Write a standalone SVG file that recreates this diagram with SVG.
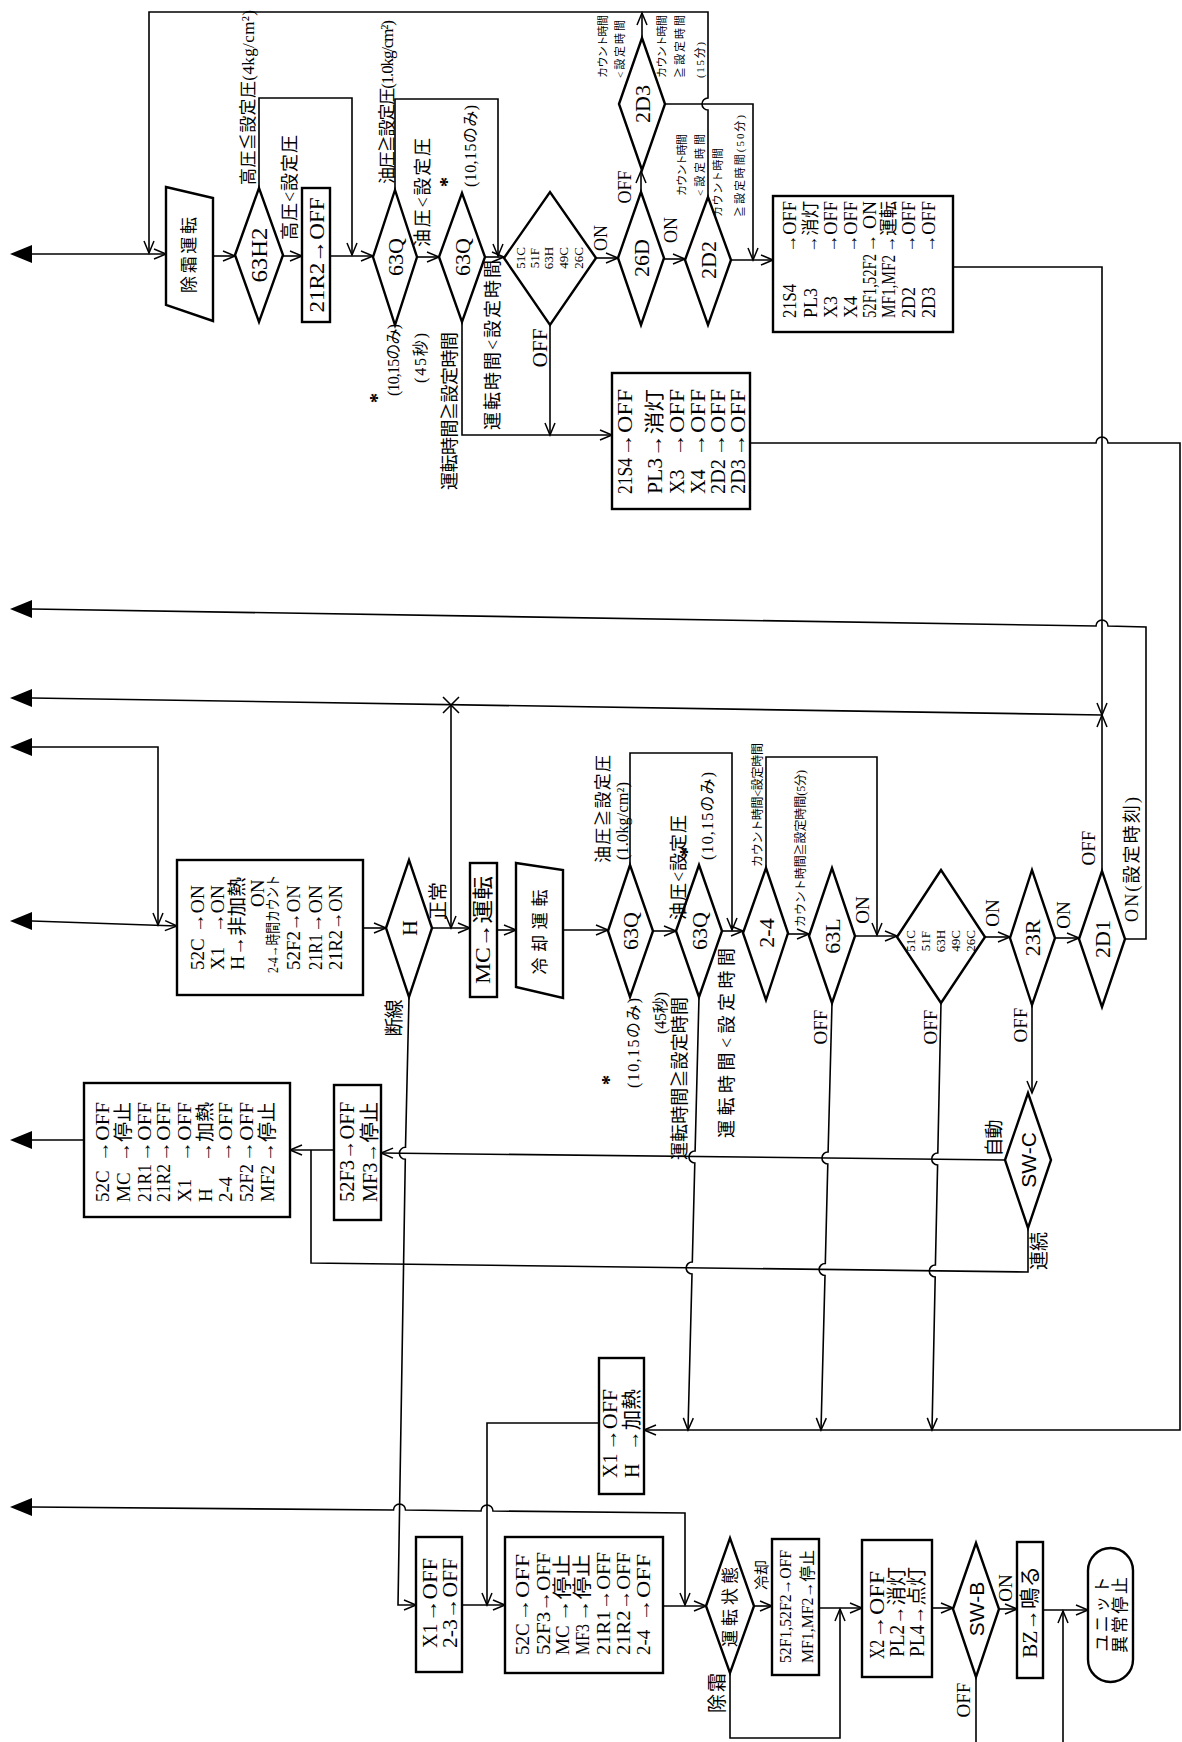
<svg xmlns="http://www.w3.org/2000/svg" width="1182" height="1742" viewBox="0 0 1182 1742">
<defs>
<style>
.ln{fill:none;stroke:#000;stroke-width:1.6}
.sh{fill:#fff;stroke:#000;stroke-width:2.4}
.fa{fill:#000;stroke:none}
.t{font-family:"Liberation Serif","Noto Sans CJK JP",serif;dominant-baseline:central;fill:#000}
.s{font-family:"Liberation Sans","Noto Sans CJK JP",sans-serif}
.m{text-anchor:middle}
.f11{font-size:11px}.f12{font-size:12px}.f13{font-size:13px}.f14{font-size:14px}.f15{font-size:15px}.f16{font-size:16px}.f17{font-size:17px}.f18{font-size:18px}.f19{font-size:19px}.f20{font-size:20px}.f21{font-size:21px}.f22{font-size:22px}.f24{font-size:24px}
.b{font-weight:bold}
</style>
<marker id="ar" markerUnits="userSpaceOnUse" markerWidth="16" markerHeight="14" viewBox="-14 -7 16 14" refX="0" refY="0" orient="auto"><path d="M-12,-5 L0,0 L-12,5" fill="none" stroke="#000" stroke-width="1.5"/></marker>
</defs>
<rect width="1182" height="1742" fill="#fff"/>

<g id="connectors" class="ln">
<polygon class="fa" points="10,254 32,245 32,263"/>
<path d="M32 254 H166" marker-end="url(#ar)"/>
<path d="M708 197 V110 A6 6 0 0 1 708 98 V12 H149 V253" marker-end="url(#ar)"/>
<path d="M213 256 H235" marker-end="url(#ar)"/>
<path d="M283 256 H302" marker-end="url(#ar)"/>
<path d="M259 188 V98 H352 V255" marker-end="url(#ar)"/>
<path d="M330 256 H373" marker-end="url(#ar)"/>
<path d="M395 190 V99 H498 V256" marker-end="url(#ar)"/>
<path d="M417 257 H439" marker-end="url(#ar)"/>
<path d="M485 257 H504" marker-end="url(#ar)"/>
<path d="M596 258 H618" marker-end="url(#ar)"/>
<path d="M550 325 V435" marker-end="url(#ar)"/>
<path d="M462 322 V435 H612" marker-end="url(#ar)"/>
<path d="M641 192 V171" marker-end="url(#ar)"/>
<path d="M642 38 V13" marker-end="url(#ar)"/>
<path d="M665 104 H753 V260" marker-end="url(#ar)"/>
<path d="M664 259 H685" marker-end="url(#ar)"/>
<path d="M731 260 H773" marker-end="url(#ar)"/>
<path d="M953 267 H1102 V715" marker-end="url(#ar)"/>
<path d="M1102 871 V715" marker-end="url(#ar)"/>
<path d="M750 443 H1096 A6 6 0 0 1 1108 443 H1180 V1430 H644" marker-end="url(#ar)"/>
<polygon class="fa" points="10,609 32,600 32,618"/>
<path d="M32 609 L1096 626 A6 6 0 0 1 1108 626 L1146 627 V939 H1125"/>
<polygon class="fa" points="10,698 32,689 32,707"/>
<path d="M32 698 L1102 715"/>
<path d="M443 697 L459 713 M459 697 L443 713"/>
<path d="M451 705 V928" marker-end="url(#ar)"/>
<polygon class="fa" points="10,747 32,738 32,756"/>
<path d="M32 747 H158 V925" marker-end="url(#ar)"/>
<polygon class="fa" points="10,921 32,912 32,930"/>
<path d="M32 921 L177 926" marker-end="url(#ar)"/>
<path d="M363 928 H386" marker-end="url(#ar)"/>
<path d="M432 928 H470" marker-end="url(#ar)"/>
<path d="M497 930 H516" marker-end="url(#ar)"/>
<path d="M563 930 H608" marker-end="url(#ar)"/>
<path d="M653 931 H676" marker-end="url(#ar)"/>
<path d="M630 865 V753 H732 V930" marker-end="url(#ar)"/>
<path d="M722 931 H743" marker-end="url(#ar)"/>
<path d="M766 868 V757 H877 V935" marker-end="url(#ar)"/>
<path d="M788 934 H809" marker-end="url(#ar)"/>
<path d="M855 936 H897" marker-end="url(#ar)"/>
<path d="M985 937 H1010" marker-end="url(#ar)"/>
<path d="M1055 938 H1079" marker-end="url(#ar)"/>
<path d="M1032 1005 V1093" marker-end="url(#ar)"/>
<path d="M409 997 L405.5 1147.3 A6 6 0 0 0 405.3 1159.3 L398 1605 H416" marker-end="url(#ar)"/>
<path d="M699 997 L695.1 1151 A6 6 0 0 0 694.8 1163 L692.3 1262 A6 6 0 0 0 692 1274 L688 1430" marker-end="url(#ar)"/>
<path d="M832 1003 L828.1 1152 A6 6 0 0 0 827.8 1164 L825.3 1263.5 A6 6 0 0 0 825 1275.5 L821 1430" marker-end="url(#ar)"/>
<path d="M941 1003 L937.8 1153 A6 6 0 0 0 937.6 1165 L935.4 1265 A6 6 0 0 0 935.2 1277 L932 1430" marker-end="url(#ar)"/>
<path d="M1005 1160 L381 1153" marker-end="url(#ar)"/>
<path d="M334 1150 H290" marker-end="url(#ar)"/>
<path d="M1028 1228 V1272 L311 1263 V1150"/>
<path d="M599 1423 H487 V1605" marker-end="url(#ar)"/>
<polygon class="fa" points="10,1140 32,1131 32,1149"/>
<path d="M32 1140 H84"/>
<polygon class="fa" points="10,1507 32,1498 32,1516"/>
<path d="M32 1507 L393.5 1510 A6 6 0 0 1 405.5 1510 L481 1511 A6 6 0 0 1 493 1511 L685 1513 V1605" marker-end="url(#ar)"/>
<path d="M462 1605 H505" marker-end="url(#ar)"/>
<path d="M663 1606 H706" marker-end="url(#ar)"/>
<path d="M754 1606 H772" marker-end="url(#ar)"/>
<path d="M730 1673 V1738 H840 V1609" marker-end="url(#ar)"/>
<path d="M819 1608 H862" marker-end="url(#ar)"/>
<path d="M932 1608 H953" marker-end="url(#ar)"/>
<path d="M999 1609 H1017" marker-end="url(#ar)"/>
<path d="M1043 1610 H1088" marker-end="url(#ar)"/>
<path d="M1063 1742 V1611" marker-end="url(#ar)"/>
<path d="M976 1677 V1742"/>
</g>

<!-- TOP ROW NODES -->
<g id="defrost"><polygon class="sh" points="166,187 213,198 213,321 166,305"/>
<text class="t m f17" x="189" y="255" transform="rotate(-90 189 255)" textLength="76">除霜運転</text></g>
<g id="d63H2"><polygon class="sh" points="235,255 259,188 283,255 259,322"/>
<text class="t m f24" x="259" y="255" transform="rotate(-90 259 255)" textLength="55" lengthAdjust="spacingAndGlyphs">63H2</text></g>
<g id="b21R2"><rect class="sh" x="302" y="188" width="28" height="134"/>
<text class="t m f22" x="316" y="255" transform="rotate(-90 316 255)" textLength="115" lengthAdjust="spacingAndGlyphs">21R2→OFF</text></g>
<g id="d63Qa"><polygon class="sh" points="373,257 395,190 417,257 395,325"/>
<text class="t m f22" x="395" y="257" transform="rotate(-90 395 257)">63Q</text></g>
<g id="d63Qb"><polygon class="sh" points="439,257 462,193 485,257 462,322"/>
<text class="t m f22" x="462" y="257" transform="rotate(-90 462 257)">63Q</text></g>
<g id="d51Ca"><polygon class="sh" points="504,258 550,192 596,258 550,325"/>
<text class="t m f13" x="520" y="258" transform="rotate(-90 520 258)">51C</text>
<text class="t m f13" x="534" y="258" transform="rotate(-90 534 258)">51F</text>
<text class="t m f13" x="548" y="258" transform="rotate(-90 548 258)">63H</text>
<text class="t m f13" x="563" y="258" transform="rotate(-90 563 258)">49C</text>
<text class="t m f13" x="578" y="258" transform="rotate(-90 578 258)">26C</text></g>
<g id="d26D"><polygon class="sh" points="618,258 641,192 664,258 641,325"/>
<text class="t m f22" x="641" y="258" transform="rotate(-90 641 258)">26D</text></g>
<g id="d2D3"><polygon class="sh" points="619,104 642,38 665,104 642,170"/>
<text class="t m f22" x="642" y="104" transform="rotate(-90 642 104)">2D3</text></g>
<g id="d2D2"><polygon class="sh" points="685,260 708,197 731,260 708,325"/>
<text class="t m f22" x="708" y="260" transform="rotate(-90 708 260)">2D2</text></g>
<g id="b21S4R"><rect class="sh" x="773" y="196" width="180" height="136"/>
<text class="t f18" x="790" y="318" transform="rotate(-90 790 318)" textLength="34" lengthAdjust="spacingAndGlyphs">21S4</text><text class="t f18" x="790" y="253" transform="rotate(-90 790 253)" textLength="52" lengthAdjust="spacingAndGlyphs">→OFF</text>
<text class="t f18" x="811" y="318" transform="rotate(-90 811 318)">PL3</text><text class="t f18" x="811" y="253" transform="rotate(-90 811 253)" textLength="52" lengthAdjust="spacingAndGlyphs">→消灯</text>
<text class="t f18" x="831" y="318" transform="rotate(-90 831 318)">X3</text><text class="t f18" x="831" y="253" transform="rotate(-90 831 253)" textLength="52" lengthAdjust="spacingAndGlyphs">→OFF</text>
<text class="t f18" x="851" y="318" transform="rotate(-90 851 318)">X4</text><text class="t f18" x="851" y="253" transform="rotate(-90 851 253)" textLength="52" lengthAdjust="spacingAndGlyphs">→OFF</text>
<text class="t f18" x="870" y="318" transform="rotate(-90 870 318)" textLength="64" lengthAdjust="spacingAndGlyphs">52F1,52F2</text><text class="t f18" x="870" y="253" transform="rotate(-90 870 253)" textLength="52" lengthAdjust="spacingAndGlyphs">→ ON</text>
<text class="t f18" x="889" y="318" transform="rotate(-90 889 318)" textLength="63" lengthAdjust="spacingAndGlyphs">MF1,MF2</text><text class="t f18" x="889" y="253" transform="rotate(-90 889 253)" textLength="52" lengthAdjust="spacingAndGlyphs">→運転</text>
<text class="t f18" x="909" y="318" transform="rotate(-90 909 318)">2D2</text><text class="t f18" x="909" y="253" transform="rotate(-90 909 253)" textLength="52" lengthAdjust="spacingAndGlyphs">→OFF</text>
<text class="t f18" x="929" y="318" transform="rotate(-90 929 318)">2D3</text><text class="t f18" x="929" y="253" transform="rotate(-90 929 253)" textLength="52" lengthAdjust="spacingAndGlyphs">→OFF</text></g>
<g id="b21S4L"><rect class="sh" x="612" y="373" width="138" height="136"/>
<text class="t f20" x="625" y="494" transform="rotate(-90 625 494)" textLength="36" lengthAdjust="spacingAndGlyphs">21S4</text><text class="t f20" x="625" y="457" transform="rotate(-90 625 457)" textLength="68" lengthAdjust="spacingAndGlyphs">→OFF</text>
<text class="t f20" x="655" y="494" transform="rotate(-90 655 494)" textLength="36" lengthAdjust="spacingAndGlyphs">PL3</text><text class="t f20" x="655" y="457" transform="rotate(-90 655 457)" textLength="68" lengthAdjust="spacingAndGlyphs">→消灯</text>
<text class="t f20" x="677" y="494" transform="rotate(-90 677 494)">X3</text><text class="t f20" x="677" y="457" transform="rotate(-90 677 457)" textLength="68" lengthAdjust="spacingAndGlyphs">→OFF</text>
<text class="t f20" x="698" y="494" transform="rotate(-90 698 494)">X4</text><text class="t f20" x="698" y="457" transform="rotate(-90 698 457)" textLength="68" lengthAdjust="spacingAndGlyphs">→OFF</text>
<text class="t f20" x="718" y="494" transform="rotate(-90 718 494)" textLength="35" lengthAdjust="spacingAndGlyphs">2D2</text><text class="t f20" x="718" y="457" transform="rotate(-90 718 457)" textLength="68" lengthAdjust="spacingAndGlyphs">→OFF</text>
<text class="t f20" x="738" y="494" transform="rotate(-90 738 494)" textLength="35" lengthAdjust="spacingAndGlyphs">2D3</text><text class="t f20" x="738" y="457" transform="rotate(-90 738 457)" textLength="68" lengthAdjust="spacingAndGlyphs">→OFF</text></g>

<!-- MIDDLE ROW NODES -->
<g id="b52Con"><rect class="sh" x="177" y="860" width="186" height="135"/>
<text class="t f19" x="197" y="970" transform="rotate(-90 197 970)">52C</text><text class="t f19" x="197" y="933" transform="rotate(-90 197 933)" textLength="48" lengthAdjust="spacingAndGlyphs">→ON</text>
<text class="t f19" x="217" y="970" transform="rotate(-90 217 970)">X1</text><text class="t f19" x="217" y="933" transform="rotate(-90 217 933)" textLength="48" lengthAdjust="spacingAndGlyphs">→ON</text>
<text class="t f19" x="237" y="970" transform="rotate(-90 237 970)" textLength="93" lengthAdjust="spacingAndGlyphs">H→非加熱</text>
<text class="t f19" x="257" y="907" transform="rotate(-90 257 907)">ON</text>
<text class="t f15" x="273" y="973" transform="rotate(-90 273 973)" textLength="98" lengthAdjust="spacingAndGlyphs">2-4→時間カウント</text>
<text class="t f19" x="293" y="970" transform="rotate(-90 293 970)" textLength="85" lengthAdjust="spacingAndGlyphs">52F2→ON</text>
<text class="t f19" x="315" y="970" transform="rotate(-90 315 970)" textLength="36" lengthAdjust="spacingAndGlyphs">21R1</text><text class="t f19" x="315" y="933" transform="rotate(-90 315 933)" textLength="48" lengthAdjust="spacingAndGlyphs">→ON</text>
<text class="t f19" x="335" y="970" transform="rotate(-90 335 970)" textLength="85" lengthAdjust="spacingAndGlyphs">21R2→ON</text></g>
<g id="dH"><polygon class="sh" points="386,928 409,860 432,928 409,997"/>
<text class="t m f22" x="409" y="928" transform="rotate(-90 409 928)">H</text></g>
<g id="bMC"><rect class="sh" x="470" y="863" width="27" height="134"/>
<text class="t m f21" x="483" y="930" transform="rotate(-90 483 930)" textLength="108" lengthAdjust="spacingAndGlyphs">MC→運転</text></g>
<g id="cool"><polygon class="sh" points="516,863 563,870 563,998 516,987"/>
<text class="t m f17" x="540" y="932" transform="rotate(-90 540 932)" textLength="85">冷却運転</text></g>
<g id="d63Qc"><polygon class="sh" points="608,931 630,865 653,931 630,997"/>
<text class="t m f22" x="630" y="931" transform="rotate(-90 630 931)">63Q</text></g>
<g id="d63Qd"><polygon class="sh" points="676,931 699,865 722,931 699,997"/>
<text class="t m f22" x="699" y="931" transform="rotate(-90 699 931)">63Q</text></g>
<g id="d24"><polygon class="sh" points="743,933 766,868 788,933 766,1000"/>
<text class="t m f22" x="766" y="933" transform="rotate(-90 766 933)">2-4</text></g>
<g id="d63L"><polygon class="sh" points="809,936 832,868 855,936 832,1003"/>
<text class="t m f22" x="832" y="936" transform="rotate(-90 832 936)">63L</text></g>
<g id="d51Cb"><polygon class="sh" points="897,937 941,870 985,937 941,1003"/>
<text class="t m f13" x="910" y="941" transform="rotate(-90 910 941)">51C</text>
<text class="t m f13" x="925" y="941" transform="rotate(-90 925 941)">51F</text>
<text class="t m f13" x="940" y="941" transform="rotate(-90 940 941)">63H</text>
<text class="t m f13" x="955" y="941" transform="rotate(-90 955 941)">49C</text>
<text class="t m f13" x="970" y="941" transform="rotate(-90 970 941)">26C</text></g>
<g id="d23R"><polygon class="sh" points="1010,938 1032,870 1055,938 1032,1005"/>
<text class="t m f22" x="1032" y="938" transform="rotate(-90 1032 938)">23R</text></g>
<g id="d2D1"><polygon class="sh" points="1079,939 1102,871 1125,939 1102,1007"/>
<text class="t m f22" x="1102" y="939" transform="rotate(-90 1102 939)">2D1</text></g>
<g id="dSWC"><polygon class="sh" points="1005,1160 1028,1093 1051,1160 1028,1228"/>
<text class="t s m f21" x="1028" y="1160" transform="rotate(-90 1028 1160)">SW-C</text></g>
<g id="b52Coff"><rect class="sh" x="84" y="1083" width="206" height="134"/>
<text class="t f19" x="102" y="1202" transform="rotate(-90 102 1202)">52C</text><text class="t f19" x="102" y="1162" transform="rotate(-90 102 1162)" textLength="60" lengthAdjust="spacingAndGlyphs">→OFF</text>
<text class="t f19" x="123" y="1202" transform="rotate(-90 123 1202)">MC</text><text class="t f19" x="123" y="1162" transform="rotate(-90 123 1162)" textLength="60" lengthAdjust="spacingAndGlyphs">→停止</text>
<text class="t f19" x="144" y="1202" transform="rotate(-90 144 1202)" textLength="38" lengthAdjust="spacingAndGlyphs">21R1</text><text class="t f19" x="144" y="1162" transform="rotate(-90 144 1162)" textLength="60" lengthAdjust="spacingAndGlyphs">→OFF</text>
<text class="t f19" x="163" y="1202" transform="rotate(-90 163 1202)" textLength="38" lengthAdjust="spacingAndGlyphs">21R2</text><text class="t f19" x="163" y="1162" transform="rotate(-90 163 1162)" textLength="60" lengthAdjust="spacingAndGlyphs">→OFF</text>
<text class="t f19" x="184" y="1202" transform="rotate(-90 184 1202)">X1</text><text class="t f19" x="184" y="1162" transform="rotate(-90 184 1162)" textLength="60" lengthAdjust="spacingAndGlyphs">→OFF</text>
<text class="t f19" x="205" y="1202" transform="rotate(-90 205 1202)">H</text><text class="t f19" x="205" y="1162" transform="rotate(-90 205 1162)" textLength="60" lengthAdjust="spacingAndGlyphs">→加熱</text>
<text class="t f19" x="225" y="1202" transform="rotate(-90 225 1202)">2-4</text><text class="t f19" x="225" y="1162" transform="rotate(-90 225 1162)" textLength="60" lengthAdjust="spacingAndGlyphs">→OFF</text>
<text class="t f19" x="246" y="1202" transform="rotate(-90 246 1202)" textLength="38" lengthAdjust="spacingAndGlyphs">52F2</text><text class="t f19" x="246" y="1162" transform="rotate(-90 246 1162)" textLength="60" lengthAdjust="spacingAndGlyphs">→OFF</text>
<text class="t f19" x="267" y="1202" transform="rotate(-90 267 1202)" textLength="37" lengthAdjust="spacingAndGlyphs">MF2</text><text class="t f19" x="267" y="1162" transform="rotate(-90 267 1162)" textLength="60" lengthAdjust="spacingAndGlyphs">→停止</text></g>
<g id="b52F3"><rect class="sh" x="334" y="1085" width="47" height="135"/>
<text class="t f20" x="347" y="1202" transform="rotate(-90 347 1202)" textLength="100" lengthAdjust="spacingAndGlyphs">52F3→OFF</text>
<text class="t f20" x="370" y="1202" transform="rotate(-90 370 1202)" textLength="100" lengthAdjust="spacingAndGlyphs">MF3→停止</text></g>
<g id="bX1H"><rect class="sh" x="599" y="1358" width="45" height="136"/>
<text class="t f20" x="610" y="1478" transform="rotate(-90 610 1478)">X1</text><text class="t f20" x="610" y="1451" transform="rotate(-90 610 1451)" textLength="62" lengthAdjust="spacingAndGlyphs">→OFF</text>
<text class="t f20" x="632" y="1478" transform="rotate(-90 632 1478)">H</text><text class="t f20" x="632" y="1451" transform="rotate(-90 632 1451)" textLength="62" lengthAdjust="spacingAndGlyphs">→加熱</text></g>

<!-- BOTTOM ROW NODES -->
<g id="bX1"><rect class="sh" x="416" y="1537" width="46" height="135"/>
<text class="t f20" x="430" y="1648" transform="rotate(-90 430 1648)">X1</text><text class="t f20" x="430" y="1622" transform="rotate(-90 430 1622)" textLength="64" lengthAdjust="spacingAndGlyphs">→OFF</text>
<text class="t f20" x="450" y="1648" transform="rotate(-90 450 1648)" textLength="90" lengthAdjust="spacingAndGlyphs">2-3→OFF</text></g>
<g id="b52Coff2"><rect class="sh" x="505" y="1537" width="158" height="136"/>
<text class="t f19" x="522" y="1655" transform="rotate(-90 522 1655)">52C</text><text class="t f19" x="522" y="1622" transform="rotate(-90 522 1622)" textLength="68" lengthAdjust="spacingAndGlyphs">→OFF</text>
<text class="t f19" x="543" y="1655" transform="rotate(-90 543 1655)" textLength="103" lengthAdjust="spacingAndGlyphs">52F3→OFF</text>
<text class="t f19" x="562" y="1655" transform="rotate(-90 562 1655)">MC</text><text class="t f19" x="562" y="1622" transform="rotate(-90 562 1622)" textLength="68" lengthAdjust="spacingAndGlyphs">→停止</text>
<text class="t f19" x="582" y="1655" transform="rotate(-90 582 1655)" textLength="31" lengthAdjust="spacingAndGlyphs">MF3</text><text class="t f19" x="582" y="1622" transform="rotate(-90 582 1622)" textLength="68" lengthAdjust="spacingAndGlyphs">→停止</text>
<text class="t f19" x="603" y="1655" transform="rotate(-90 603 1655)" textLength="103" lengthAdjust="spacingAndGlyphs">21R1→OFF</text>
<text class="t f19" x="623" y="1655" transform="rotate(-90 623 1655)" textLength="103" lengthAdjust="spacingAndGlyphs">21R2→OFF</text>
<text class="t f19" x="643" y="1655" transform="rotate(-90 643 1655)">2-4</text><text class="t f19" x="643" y="1622" transform="rotate(-90 643 1622)" textLength="68" lengthAdjust="spacingAndGlyphs">→OFF</text></g>
<g id="dState"><polygon class="sh" points="706,1606 730,1538 754,1606 730,1673"/>
<text class="t m f17" x="730" y="1607" transform="rotate(-90 730 1607)" textLength="80">運転状態</text></g>
<g id="b52F1"><rect class="sh" x="772" y="1539" width="47" height="136"/>
<text class="t f16" x="785" y="1663" transform="rotate(-90 785 1663)" textLength="113" lengthAdjust="spacingAndGlyphs">52F1,52F2→OFF</text>
<text class="t f16" x="807" y="1663" transform="rotate(-90 807 1663)" textLength="113" lengthAdjust="spacingAndGlyphs">MF1,MF2→停止</text></g>
<g id="bX2"><rect class="sh" x="862" y="1540" width="70" height="137"/>
<text class="t f20" x="877" y="1659" transform="rotate(-90 877 1659)" textLength="19" lengthAdjust="spacingAndGlyphs">X2</text><text class="t f20" x="877" y="1639" transform="rotate(-90 877 1639)" textLength="68" lengthAdjust="spacingAndGlyphs">→OFF</text>
<text class="t f20" x="897" y="1657" transform="rotate(-90 897 1657)" textLength="90" lengthAdjust="spacingAndGlyphs">PL2→消灯</text>
<text class="t f20" x="917" y="1657" transform="rotate(-90 917 1657)" textLength="90" lengthAdjust="spacingAndGlyphs">PL4→点灯</text></g>
<g id="dSWB"><polygon class="sh" points="953,1609 976,1543 999,1609 976,1677"/>
<text class="t s m f21" x="976" y="1609" transform="rotate(-90 976 1609)">SW-B</text></g>
<g id="bBZ"><rect class="sh" x="1017" y="1542" width="26" height="136"/>
<text class="t m f21" x="1030" y="1612" transform="rotate(-90 1030 1612)" textLength="92" lengthAdjust="spacingAndGlyphs">BZ→鳴る</text></g>
<g id="term"><rect class="sh" x="1088" y="1548" width="45" height="134" rx="22.5" ry="22.5"/>
<text class="t m f17" x="1102" y="1614" transform="rotate(-90 1102 1614)" textLength="75">ユニット</text>
<text class="t m f17" x="1120" y="1615" transform="rotate(-90 1120 1615)" textLength="76">異常停止</text></g>

<g id="labels">
<text class="t f17" x="248" y="185" transform="rotate(-90 248 185)" textLength="175">高圧≦設定圧(4kg/cm²)</text>
<text class="t f18" x="290" y="240" transform="rotate(-90 290 240)" textLength="105">高圧&lt;設定圧</text>
<text class="t f17" x="387" y="184" transform="rotate(-90 387 184)" textLength="164">油圧≧設定圧(1.0kg/cm²)</text>
<text class="t f18" x="423" y="247" transform="rotate(-90 423 247)" textLength="109">油圧&lt;設定圧</text>
<text class="t m f20 b" x="447" y="182" transform="rotate(-90 447 182)">*</text>
<text class="t f16" x="470" y="187" transform="rotate(-90 470 187)" textLength="82">(10,15のみ)</text>
<text class="t f16" x="393" y="396" transform="rotate(-90 393 396)" textLength="72">(10,15のみ)</text>
<text class="t m f20 b" x="377" y="398" transform="rotate(-90 377 398)">*</text>
<text class="t f16" x="420" y="383" transform="rotate(-90 420 383)" textLength="50">(45秒)</text>
<text class="t f18" x="450" y="490" transform="rotate(-90 450 490)" textLength="158">運転時間≧設定時間</text>
<text class="t f18" x="493" y="430" transform="rotate(-90 493 430)" textLength="170">運転時間&lt;設定時間</text>
<text class="t m f20" x="540" y="348" transform="rotate(-90 540 348)" textLength="39" lengthAdjust="spacingAndGlyphs">OFF</text>
<text class="t m f18" x="601" y="238" transform="rotate(-90 601 238)">ON</text>
<text class="t m f18" x="625" y="187" transform="rotate(-90 625 187)">OFF</text>
<text class="t m f18" x="671" y="230" transform="rotate(-90 671 230)">ON</text>
<text class="t f11" x="603" y="78" transform="rotate(-90 603 78)" textLength="63">カウント時間</text>
<text class="t f11" x="620" y="78" transform="rotate(-90 620 78)" textLength="58">&lt;設定時間</text>
<text class="t f11" x="662" y="78" transform="rotate(-90 662 78)" textLength="63">カウント時間</text>
<text class="t f11" x="680" y="78" transform="rotate(-90 680 78)" textLength="63">≧設定時間</text>
<text class="t f11" x="700" y="78" transform="rotate(-90 700 78)" textLength="36">(15分)</text>
<text class="t f11" x="682" y="196" transform="rotate(-90 682 196)" textLength="62">カウント時間</text>
<text class="t f11" x="700" y="196" transform="rotate(-90 700 196)" textLength="62">&lt;設定時間</text>
<text class="t f11" x="718" y="217" transform="rotate(-90 718 217)" textLength="69">カウント時間</text>
<text class="t f11" x="740" y="217" transform="rotate(-90 740 217)" textLength="102">≧設定時間(50分)</text>

<text class="t m f19" x="438" y="901" transform="rotate(-90 438 901)" textLength="38">正常</text>
<text class="t m f19" x="394" y="1018" transform="rotate(-90 394 1018)" textLength="37">断線</text>
<text class="t f17" x="603" y="863" transform="rotate(-90 603 863)" textLength="108">油圧≧設定圧</text>
<text class="t f16" x="622" y="860" transform="rotate(-90 622 860)" textLength="78">(1.0kg/cm²)</text>
<text class="t f18" x="679" y="920" transform="rotate(-90 679 920)" textLength="105">油圧&lt;設定圧</text>
<text class="t m f20 b" x="687" y="852" transform="rotate(-90 687 852)">*</text>
<text class="t f16" x="707" y="860" transform="rotate(-90 707 860)" textLength="88">(10,15のみ)</text>
<text class="t m f20 b" x="609" y="1080" transform="rotate(-90 609 1080)">*</text>
<text class="t f16" x="633" y="1088" transform="rotate(-90 633 1088)" textLength="90">(10,15のみ)</text>
<text class="t f16" x="660" y="1034" transform="rotate(-90 660 1034)" textLength="42">(45秒)</text>
<text class="t f18" x="680" y="1160" transform="rotate(-90 680 1160)" textLength="163">運転時間≧設定時間</text>
<text class="t f18" x="727" y="1138" transform="rotate(-90 727 1138)" textLength="190">運転時間&lt;設定時間</text>
<text class="t f12" x="758" y="867" transform="rotate(-90 758 867)" textLength="124">カウント時間&lt;設定時間</text>
<text class="t f12" x="801" y="927" transform="rotate(-90 801 927)" textLength="157">カウント時間≧設定時間(5分)</text>
<text class="t m f19" x="862" y="910" transform="rotate(-90 862 910)">ON</text>
<text class="t m f19" x="820" y="1027" transform="rotate(-90 820 1027)">OFF</text>
<text class="t m f19" x="992" y="913" transform="rotate(-90 992 913)">ON</text>
<text class="t m f19" x="930" y="1027" transform="rotate(-90 930 1027)">OFF</text>
<text class="t m f19" x="1063" y="915" transform="rotate(-90 1063 915)">ON</text>
<text class="t m f19" x="1020" y="1025" transform="rotate(-90 1020 1025)">OFF</text>
<text class="t m f19" x="1088" y="848" transform="rotate(-90 1088 848)">OFF</text>
<text class="t f18" x="1132" y="922" transform="rotate(-90 1132 922)" textLength="125">ON(設定時刻)</text>
<text class="t m f19" x="994" y="1138" transform="rotate(-90 994 1138)" textLength="37">自動</text>
<text class="t m f19" x="1039" y="1251" transform="rotate(-90 1039 1251)" textLength="38">連続</text>

<text class="t m f19" x="717" y="1693" transform="rotate(-90 717 1693)" textLength="40">除霜</text>
<text class="t m f15" x="762" y="1575" transform="rotate(-90 762 1575)" textLength="30">冷却</text>
<text class="t m f19" x="1005" y="1588" transform="rotate(-90 1005 1588)">ON</text>
<text class="t m f19" x="963" y="1700" transform="rotate(-90 963 1700)">OFF</text>
</g>
</svg>
